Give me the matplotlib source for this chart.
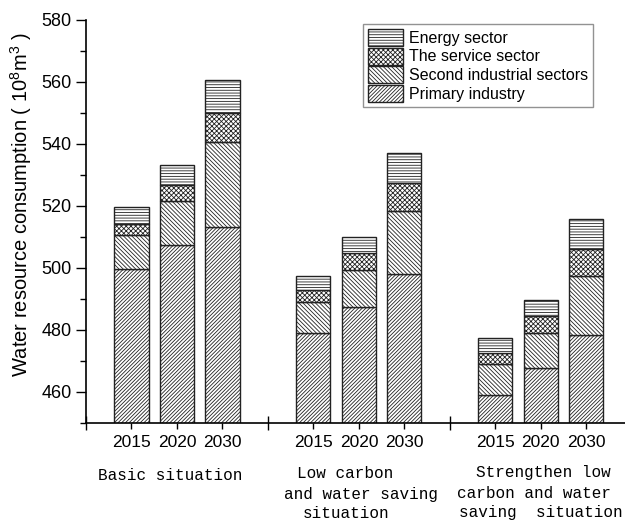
import matplotlib.pyplot as plt
import matplotlib as mpl

plt.rcParams['font.family'] = ['Liberation Sans', 'DejaVu Sans']
plt.rcParams['mathtext.default'] = 'regular'
plt.rcParams['hatch.linewidth'] = 0.6
plt.rcParams['hatch.color'] = '#333333'

# bar positions (gaps between scenarios)
positions = [1, 2, 3, 5, 6, 7, 9, 10, 11]
years = ["2015", "2020", "2030"] * 3

# stacked segments (10^8 m^3)
primary = [499.6, 507.4, 513.3, 478.9, 487.2, 498.0, 459.1, 467.8, 478.2]
second = [11.0, 14.3, 27.3, 10.2, 12.1, 20.3, 9.8, 11.3, 19.2]
service = [3.6, 5.1, 9.4, 3.7, 5.5, 9.0, 3.6, 5.2, 8.7]
energy = [5.4, 6.3, 10.5, 4.6, 5.3, 9.7, 4.7, 5.3, 9.5]

fig = plt.figure(figsize=(6.25, 5.21), dpi=100)
ax = fig.add_axes([86 / 625, 1 - 422.7 / 521, 1 - 86 / 625, (422.7 - 20) / 521])

w = 0.75
kw = dict(width=w, color='white', edgecolor='#222222', linewidth=1.0)
b_prim = ax.bar(positions, primary, hatch='/////////', **kw, label='Primary industry')
bot = list(primary)
b_sec = ax.bar(positions, second, bottom=bot, hatch='\\\\\\\\\\\\\\\\', **kw, label='Second industrial sectors')
bot = [a + b for a, b in zip(bot, second)]
b_ser = ax.bar(positions, service, bottom=bot, hatch='xxxxxxx', **kw, label='The service sector')
bot = [a + b for a, b in zip(bot, service)]
b_en = ax.bar(positions, energy, bottom=bot, hatch='------', **kw, label='Energy sector')

ax.set_ylim(450, 580)
ax.set_xlim(0, 11.85)
ax.set_yticks(range(460, 581, 20))
ax.set_yticks(range(450, 581, 10), minor=True)
ax.tick_params(axis='y', which='major', direction='out', length=7, width=1, labelsize=13)
ax.tick_params(axis='y', which='minor', direction='out', length=4, width=1)

ax.set_xticks(positions)
ax.set_xticklabels(years)
ax.set_xticks([0, 4, 8], minor=True)
ax.tick_params(axis='x', which='major', direction='out', length=4, width=1, labelsize=12.5, pad=5)
ax.tick_params(axis='x', which='minor', direction='inout', length=10, width=1)

for s in ['top', 'right']:
    ax.spines[s].set_visible(False)
for s in ['left', 'bottom']:
    ax.spines[s].set_linewidth(1.2)

ax.set_ylabel('Water resource consumption ( $10^8m^3$ )', fontsize=14.5)
ax.yaxis.set_label_coords(-0.097, 0.54)

# scenario labels below the years
mono = dict(family='Liberation Mono', fontsize=11.5, va='center', xycoords=('data', 'figure pixels'))
ax.annotate('Basic situation', (1.85, 521 - 475), ha='center', **mono)
ax.annotate('Low carbon', (5.69, 521 - 473), ha='center', **mono)
ax.annotate('and water saving', (6.04, 521 - 494), ha='center', **mono)
ax.annotate('situation', (5.71, 521 - 514), ha='center', **mono)
ax.annotate('Strengthen low', (10.05, 521 - 472), ha='center', **mono)
ax.annotate('carbon and water', (9.86, 521 - 493), ha='center', **mono)
ax.annotate('saving  situation', (8.2, 521 - 513), ha='left', annotation_clip=False, **mono)

leg = ax.legend(handles=[b_en, b_ser, b_sec, b_prim], loc='upper left',
                bbox_to_anchor=(0.514, 0.99), fontsize=11.5, frameon=True, fancybox=False,
                edgecolor='#777777', handlelength=2.2, handleheight=1.25,
                labelspacing=0.12, borderpad=0.3, handletextpad=0.4, borderaxespad=0)
leg.get_frame().set_linewidth(1.0)

fig.savefig('out.png', dpi=100)
